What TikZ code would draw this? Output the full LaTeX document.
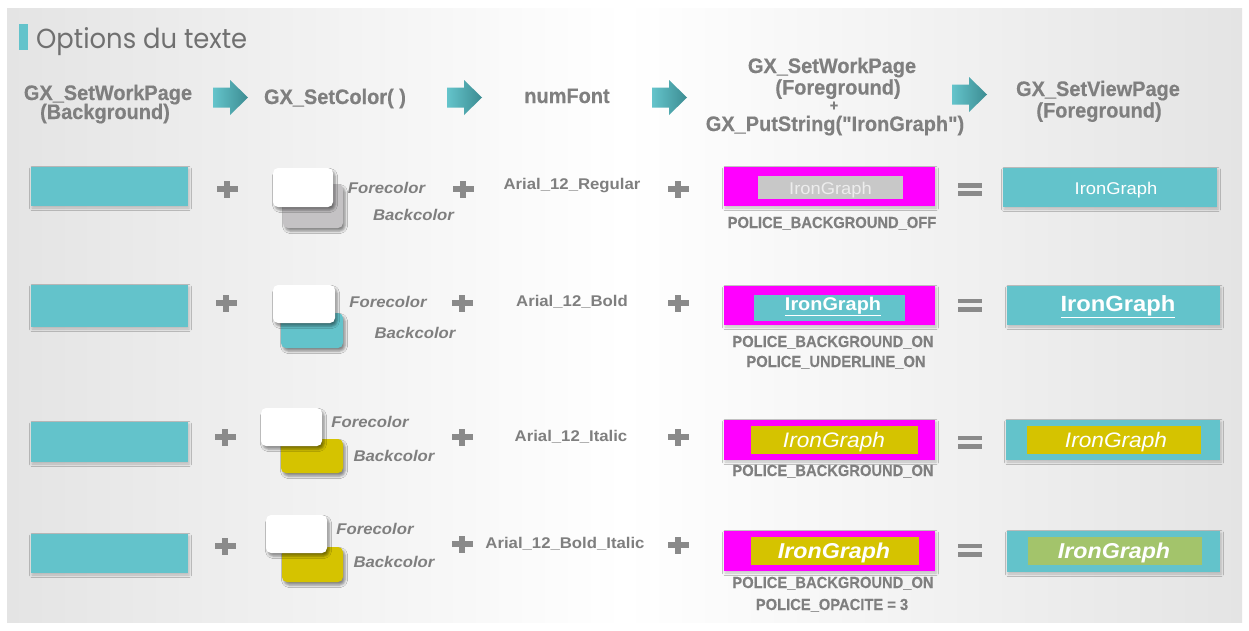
\documentclass[tikz,border=0pt]{standalone}
\usepackage{fontspec}
\setmainfont{Liberation Sans}
\newfontfamily\hd{Liberation Sans}[FakeStretch=1.08]
\newfontfamily\hdh{Liberation Sans}[FakeStretch=0.95, FakeBold=0.4]
\newfontfamily\hdp{Liberation Sans}[FakeStretch=0.92, FakeBold=0.3]
\newfontfamily\ttlf{Poppins}
\usetikzlibrary{shadows.blur}
\definecolor{teal1}{HTML}{63C3CB}
\definecolor{txtgray}{HTML}{7F7F7F}
\definecolor{ttlgray}{HTML}{707070}
\definecolor{plusgray}{HTML}{8A8A8A}
\definecolor{mag}{HTML}{FF00FF}
\definecolor{yel}{HTML}{D5C300}
\definecolor{grn}{HTML}{A3C46B}
\definecolor{lgray}{HTML}{C8C8C8}
\definecolor{swgray}{HTML}{C4C2C4}
\definecolor{arrL}{HTML}{64C4CB}
\definecolor{arrR}{HTML}{3C8C92}
\definecolor{panel}{HTML}{E4E4E4}
\begin{document}
\begin{tikzpicture}[x=1pt,y=-1pt,
  sh/.style={blur shadow={shadow xshift=1pt, shadow yshift=-2pt, shadow blur radius=2.5pt, shadow opacity=22}},
  shd/.style={blur shadow={shadow xshift=2pt, shadow yshift=-3pt, shadow blur radius=2.5pt, shadow opacity=45}},
  hdr/.style={font=\hdh\bfseries\fontsize{21}{21}\selectfont, text=txtgray, anchor=base, inner sep=0pt},
  lbl/.style={font=\hd\bfseries\fontsize{15.5}{15.5}\selectfont, text=txtgray, anchor=base, inner sep=0pt},
  col/.style={font=\hd\bfseries\itshape\fontsize{15.5}{15.5}\selectfont, text=txtgray, anchor=base, inner sep=0pt},
  pol/.style={font=\hdp\bfseries\fontsize{16}{16}\selectfont, text=txtgray, anchor=base, inner sep=0pt},
  ig/.style={text=white, anchor=base, inner sep=0pt},
  plussign/.pic={\fill[plusgray] (-10.5,-2.7) rectangle (10.5,2.7); \fill[plusgray] (-2.8,-8.5) rectangle (2.8,8.5);},
  eqsign/.pic={\fill[plusgray] (-12,-6.5) rectangle (12,-1.7); \fill[plusgray] (-12,1.7) rectangle (12,6.5);},
  tarrow/.pic={\shade[left color=arrL, right color=arrR] (0,-10) -- (17,-10) -- (17,-17.5) -- (35,0) -- (17,17.5) -- (17,10) -- (0,10) -- cycle;}
]
\useasboundingbox (0,0) rectangle (1249,630);
\fill[white] (0,0) rectangle (1249,630);
\shade[left color=panel, right color=panel, middle color=white] (7,8) rectangle (1242,622);

% title
\fill[teal1] (19,24) rectangle (28,50);
\node[anchor=base west, inner sep=0pt, text=ttlgray] (title) at (36,48) {\resizebox{211pt}{21pt}{\ttlf Options du texte}};

% headers
\node[hdr] (h1a) at (108,100) {GX\_SetWorkPage};
\node[hdr] (h1b) at (105,119) {(Background)};
\pic at (213,97.5) {tarrow};
\node[hdr] (h2) at (335,104) {GX\_SetColor( )};
\pic at (447,97.5) {tarrow};
\node[hdr] (h3) at (567,103) {numFont};
\pic at (652,97.5) {tarrow};
\node[hdr] (h4a) at (832,73) {GX\_SetWorkPage};
\node[hdr] (h4b) at (838,94.5) {(Foreground)};
\node[hdr, font=\hdh\bfseries\fontsize{15}{15}\selectfont] (h4c) at (834,110.5) {+};
\node[hdr] (h4d) at (835,131) {GX\_PutString("IronGraph")};
\pic at (952,94.5) {tarrow};
\node[hdr] (h5a) at (1098,96) {GX\_SetViewPage};
\node[hdr] (h5b) at (1099,117.5) {(Foreground)};

% row 1
\fill[teal1, sh] (31,167) rectangle (188,206);
\pic at (227,189) {plussign};
\fill[swgray, shd, rounded corners=5pt] (283,184) rectangle (343,228);
\fill[white, shd, rounded corners=5pt] (273,168) rectangle (333,207);
\node[col] (fc1) at (386.5,193) {Forecolor};
\node[col] (bc1) at (413.5,220) {Backcolor};
\pic at (463,189) {plussign};
\node[lbl] (f1) at (572,189) {Arial\_12\_Regular};
\pic at (678,189) {plussign};
\fill[mag, sh] (724,167) rectangle (935,206);
\fill[lgray] (758,176) rectangle (903,199);
\node[ig, text=white!93!black, font=\hd\fontsize{17}{17}\selectfont] (t1) at (830.5,194) {IronGraph};
\node[pol] (p1) at (832,228) {POLICE\_BACKGROUND\_OFF};
\pic at (970,189.5) {eqsign};
\fill[teal1, sh] (1003,168) rectangle (1217,207);
\node[ig, font=\hd\fontsize{17}{17}\selectfont] (res1) at (1116,194) {IronGraph};

% row 2
\fill[teal1, sh] (31,285) rectangle (188,327);
\pic at (226,303) {plussign};
\fill[teal1, shd, rounded corners=5pt] (281,313) rectangle (343,348);
\fill[white, shd, rounded corners=5pt] (273,285) rectangle (335,323);
\node[col] (fc2) at (388,307) {Forecolor};
\node[col] (bc2) at (415,338) {Backcolor};
\pic at (462,303) {plussign};
\node[lbl] (f2) at (572,306) {Arial\_12\_Bold};
\pic at (678,303) {plussign};
\fill[mag, sh] (724,286) rectangle (935,325);
\fill[teal1] (754,295) rectangle (905,321);
\node[ig, font=\hd\bfseries\fontsize{18.4}{18.4}\selectfont] (t2) at (833,310) {\underline{IronGraph}};
\node[pol] (p2a) at (833,347) {POLICE\_BACKGROUND\_ON};
\node[pol] (p2b) at (836,367) {POLICE\_UNDERLINE\_ON};
\pic at (970,305) {eqsign};
\fill[teal1, sh] (1007,286) rectangle (1220,325);
\node[ig, font=\hd\bfseries\fontsize{22}{22}\selectfont] (res2) at (1118,311) {\underline{IronGraph}};

% row 3
\fill[teal1, sh] (31,422) rectangle (188,462);
\pic at (225,437) {plussign};
\fill[yel, shd, rounded corners=5pt] (281,439) rectangle (343,473);
\fill[white, shd, rounded corners=5pt] (261,408) rectangle (322,446);
\node[col] (fc3) at (370,427) {Forecolor};
\node[col] (bc3) at (394,461) {Backcolor};
\pic at (462,437) {plussign};
\node[lbl] (f3) at (571,441) {Arial\_12\_Italic};
\pic at (678,437) {plussign};
\fill[mag, sh] (724,420) rectangle (935,460);
\fill[yel] (751,426) rectangle (918,454);
\node[ig, font=\hd\itshape\fontsize{21}{21}\selectfont] (t3) at (834,447) {IronGraph};
\node[pol] (p3) at (833,476) {POLICE\_BACKGROUND\_ON};
\pic at (970,442) {eqsign};
\fill[teal1, sh] (1006,420) rectangle (1220,460);
\fill[yel] (1027,426) rectangle (1201,454);
\node[ig, font=\hd\itshape\fontsize{21}{21}\selectfont] (res3) at (1116,447) {IronGraph};

% row 4
\fill[teal1, sh] (31,534) rectangle (188,573);
\pic at (225,546) {plussign};
\fill[yel, shd, rounded corners=5pt] (282,547) rectangle (343,582);
\fill[white, shd, rounded corners=5pt] (266,515) rectangle (327,553);
\node[col] (fc4) at (375,534) {Forecolor};
\node[col] (bc4) at (394,567) {Backcolor};
\pic at (462,544) {plussign};
\node[lbl] (f4) at (565,548) {Arial\_12\_Bold\_Italic};
\pic at (678,545) {plussign};
\fill[mag, sh] (724,531) rectangle (935,571);
\fill[yel] (751,537) rectangle (919,565);
\node[ig, font=\hd\bfseries\itshape\fontsize{21.5}{21.5}\selectfont] (t4) at (834,558) {IronGraph};
\node[pol] (p4a) at (833,588) {POLICE\_BACKGROUND\_ON};
\node[pol] (p4b) at (832,610) {POLICE\_OPACITE = 3};
\pic at (970,550) {eqsign};
\fill[teal1, sh] (1007,531) rectangle (1220,572);
\fill[grn] (1028,537) rectangle (1202,565);
\node[ig, font=\hd\bfseries\itshape\fontsize{21.5}{21.5}\selectfont] (res4) at (1114,558) {IronGraph};
\end{tikzpicture}
\end{document}
